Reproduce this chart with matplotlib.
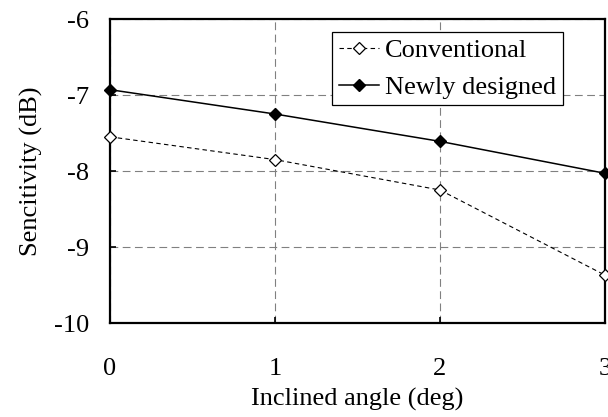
import matplotlib
matplotlib.use("Agg")
import matplotlib.pyplot as plt

# ── Data ──────────────────────────────────────────────────────────────────────
angles = [0, 1, 2, 3]
conventional = [-7.55, -7.85, -8.25, -9.37]
newly_designed = [-6.93, -7.25, -7.61, -8.03]

x_ticks = [0, 1, 2, 3]
y_ticks = [-10, -9, -8, -7, -6]

# ── Style ─────────────────────────────────────────────────────────────────────
plt.rcParams["font.family"] = ["Liberation Serif", "DejaVu Serif"]
plt.rcParams["axes.unicode_minus"] = False
FS = 19

fig = plt.figure(figsize=(6.08, 4.17), dpi=100)
ax = fig.add_axes([0.181, 0.2254, 0.814, 0.729])

ax.plot(angles, conventional, color="black", linewidth=0.8,
        linestyle=(0, (4, 3)), marker="D", markersize=6.5,
        markerfacecolor="white", markeredgecolor="black",
        markeredgewidth=0.9, label="Conventional", clip_on=False, zorder=3)
ax.plot(angles, newly_designed, color="black", linewidth=1.1,
        marker="D", markersize=6.5, markerfacecolor="black",
        markeredgecolor="black", label="Newly designed", clip_on=False,
        zorder=3)

ax.set_xlim(0, 3)
ax.set_ylim(-10, -6)
ax.set_xticks(x_ticks)
ax.set_yticks(y_ticks)
ax.grid(True, color="#808080", linewidth=0.8, linestyle=(0, (7, 4)))
ax.set_axisbelow(True)

for sp in ax.spines.values():
    sp.set_linewidth(1.6)
ax.tick_params(direction="in", length=4.5, width=1.2, labelsize=FS)
ax.tick_params(axis="x", pad=25)
ax.tick_params(axis="y", pad=15)

ax.set_xlabel("Inclined angle (deg)", fontsize=FS, labelpad=6)
ax.set_ylabel("Sencitivity (dB)", fontsize=FS, labelpad=8)

leg = ax.legend(loc="upper right", bbox_to_anchor=(0.915, 0.957),
                borderaxespad=0, fontsize=FS, frameon=True, fancybox=False,
                edgecolor="black", framealpha=1, handlelength=1.5,
                handletextpad=0.25, labelspacing=0.5, borderpad=0.25)
leg.get_frame().set_linewidth(0.9)

fig.savefig("out.png", dpi=100)
